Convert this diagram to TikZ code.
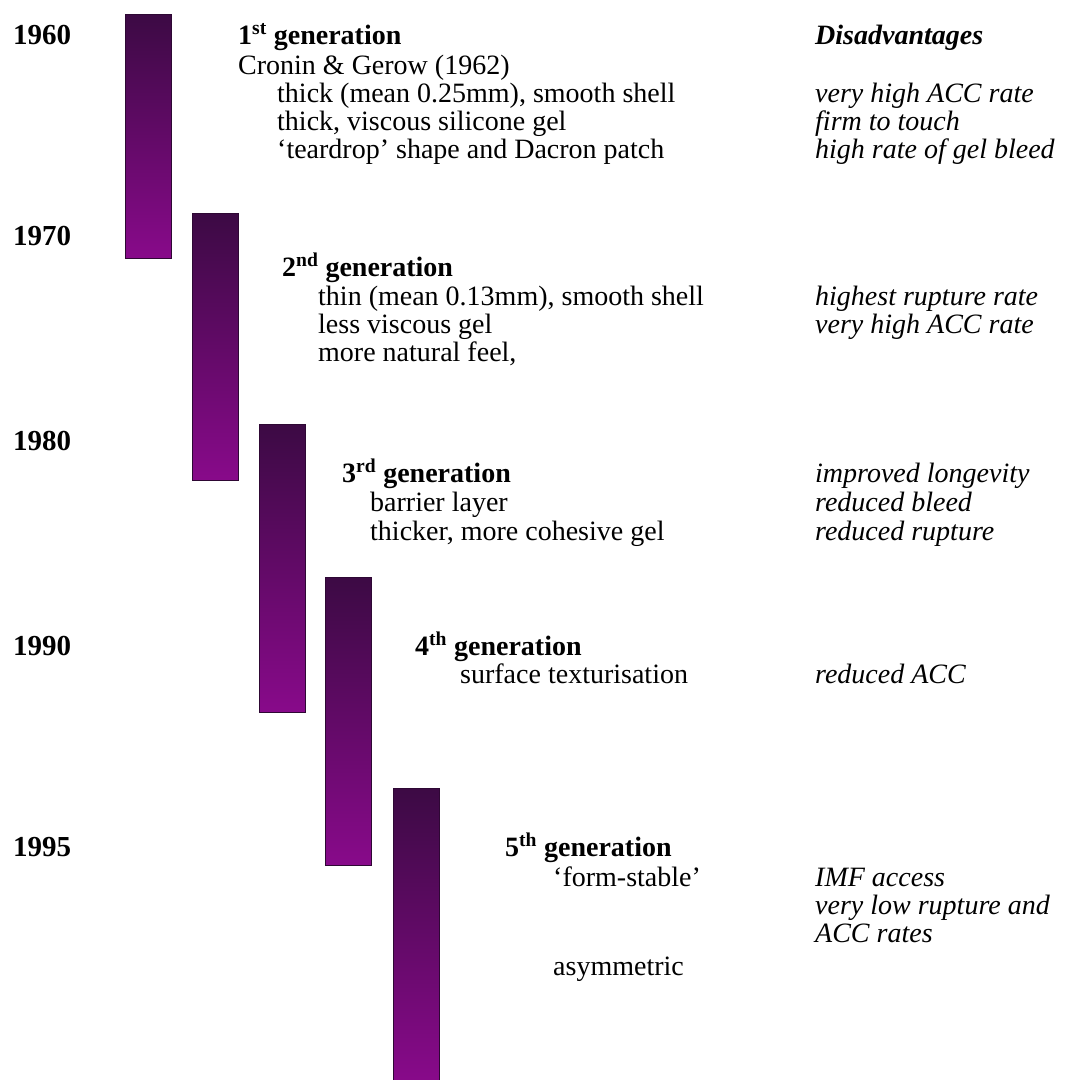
\documentclass[tikz,border=0pt]{standalone}
\usepackage{fontspec}
\setmainfont{Liberation Serif}
\definecolor{bartop}{HTML}{3C0A44}
\definecolor{barbot}{HTML}{880A8A}
\definecolor{barline}{HTML}{2E0834}
\newcommand{\fsz}{\fontsize{28}{30}\selectfont}
\begin{document}
\begin{tikzpicture}[x=1pt,y=-1pt,
  every node/.style={inner sep=0pt,anchor=base west,font=\fsz,text height=0.7em,text depth=0.17em},
  year/.style={font=\fontsize{29}{31}\selectfont\bfseries},
  gen/.style={font=\fsz\bfseries},
  txt/.style={},
  dis/.style={font=\fsz\itshape},
  dishead/.style={font=\fsz\bfseries\itshape},
  bar/.style={draw=barline,line width=0.8pt,top color=bartop,bottom color=barbot}]
\useasboundingbox[fill=white] (0,0) rectangle (1079,1080);
% bars
\draw[bar] (125,14) rectangle (171,258);
\draw[bar] (192,213) rectangle (238,480);
\draw[bar] (259,424) rectangle (305,712);
\draw[bar] (325,577) rectangle (371,865);
\draw[bar] (393,788) rectangle (439,1082);
% years
\node[year] (y1960) at (13,44) {1960};
\node[year] (y1970) at (13,245) {1970};
\node[year] (y1980) at (13,450) {1980};
\node[year] (y1990) at (13,655) {1990};
\node[year] (y1995) at (13,856) {1995};
% 1st generation
\node[gen] (g1) at (238,44) {1\textsuperscript{st} generation};
\node[txt] (g1a) at (238,74) {Cronin \& Gerow (1962)};
\node[txt] (g1b) at (277,102) {thick (mean 0.25mm), smooth shell};
\node[txt] (g1c) at (277,130) {thick, viscous silicone gel};
\node[txt] (g1d) at (277,158) {‘teardrop’ shape and Dacron patch};
\node[dishead] (dh) at (815,44) {Disadvantages};
\node[dis] (d1a) at (815,102) {very high ACC rate};
\node[dis] (d1b) at (815,130) {firm to touch};
\node[dis] (d1c) at (815,158) {high rate of gel bleed};
% 2nd generation
\node[gen] (g2) at (282,276) {2\textsuperscript{nd} generation};
\node[txt] (g2a) at (318,305) {thin (mean 0.13mm), smooth shell};
\node[txt] (g2b) at (318,333) {less viscous gel};
\node[txt] (g2c) at (318,361) {more natural feel,};
\node[dis] (d2a) at (815,305) {highest rupture rate};
\node[dis] (d2b) at (815,333) {very high ACC rate};
% 3rd generation
\node[gen] (g3) at (342,482) {3\textsuperscript{rd} generation};
\node[txt] (g3a) at (370,511) {barrier layer};
\node[txt] (g3b) at (370,540) {thicker, more cohesive gel};
\node[dis] (d3a) at (815,482) {improved longevity};
\node[dis] (d3b) at (815,511) {reduced bleed};
\node[dis] (d3c) at (815,540) {reduced rupture};
% 4th generation
\node[gen] (g4) at (415,655) {4\textsuperscript{th} generation};
\node[txt] (g4a) at (460,683) {surface texturisation};
\node[dis] (d4a) at (815,683) {reduced ACC};
% 5th generation
\node[gen] (g5) at (505,856) {5\textsuperscript{th} generation};
\node[txt] (g5a) at (553,886) {‘form-stable’};
\node[txt] (g5b) at (553,975) {asymmetric};
\node[dis] (d5a) at (815,886) {IMF access};
\node[dis] (d5b) at (815,914) {very low rupture and};
\node[dis] (d5c) at (815,942) {ACC rates};
\end{tikzpicture}
\end{document}
